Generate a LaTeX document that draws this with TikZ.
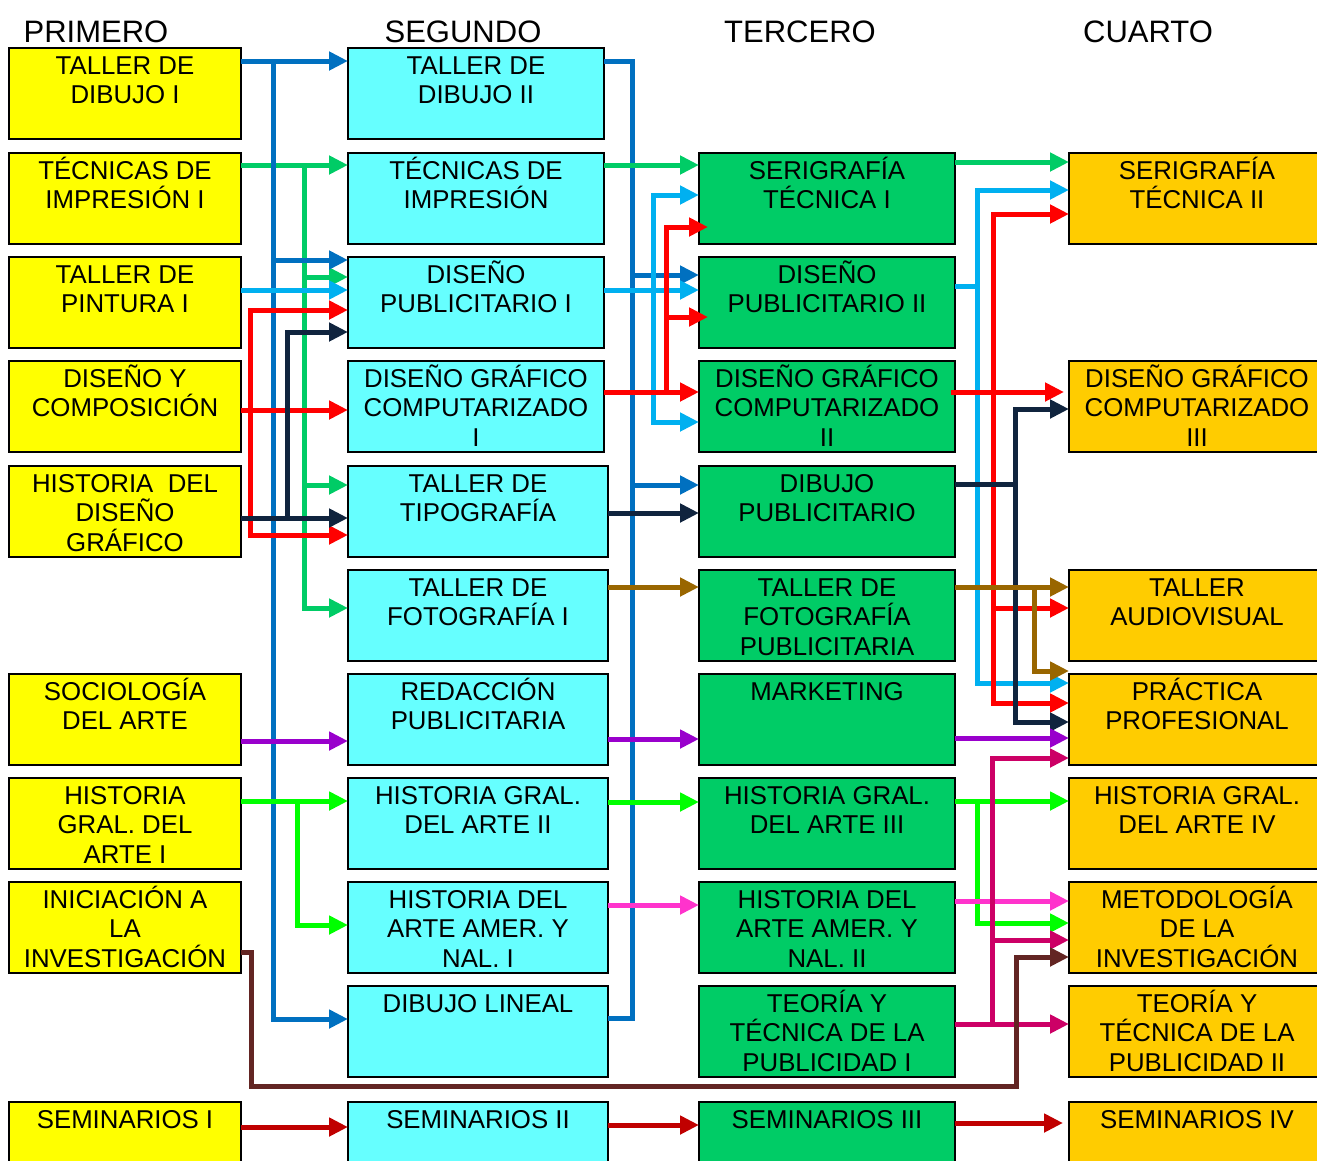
\documentclass[tikz,border=0pt]{standalone}
\usepackage{fontspec}
\setmainfont{Liberation Sans}
\usetikzlibrary{arrows.meta,calc}
\definecolor{cYel}{HTML}{FFFF00}
\definecolor{cCyan}{HTML}{66FFFF}
\definecolor{cEm}{HTML}{00CC66}
\definecolor{cGold}{HTML}{FFCC00}
\definecolor{cBlue}{HTML}{0070C0}
\definecolor{cGreen}{HTML}{00CC66}
\definecolor{cLBlue}{HTML}{00B0F0}
\definecolor{cRed}{HTML}{FF0000}
\definecolor{cNavy}{HTML}{10243E}
\definecolor{cPurple}{HTML}{9900CC}
\definecolor{cLime}{HTML}{00FF00}
\definecolor{cBrown}{HTML}{632523}
\definecolor{cDRed}{HTML}{C00000}
\definecolor{cOchre}{HTML}{996600}
\definecolor{cPink}{HTML}{FF33CC}
\definecolor{cMag}{HTML}{CC0066}
\newcommand\mkbox[6]{%
  \node[boxst,#2,anchor=north west,minimum width=#5pt] (#1) at (#3,#4) {};
  \node[txt,anchor=north] (#1t) at ([yshift=-1pt]#1.north) {\rule{0pt}{25pt}#6};
}
\begin{document}
\begin{tikzpicture}[x=1pt,y=-1pt,
  >={Triangle[length=19pt,width=18pt]},
  ln/.style={line width=5pt,line join=miter},
  boxst/.style={draw=black,line width=2pt,rectangle,minimum height=91pt,inner sep=0pt,outer sep=0pt},
  yb/.style={fill=cYel}, cb/.style={fill=cCyan}, gb/.style={fill=cEm}, ob/.style={fill=cGold},
  txt/.style={font=\fontsize{25.8}{29.5}\selectfont,align=center,inner sep=0pt},
  hdr/.style={font=\fontsize{31}{36}\selectfont,inner sep=0pt}]
\useasboundingbox (0,0) rectangle (1317,1160);
\clip (0,0) rectangle (1317,1160);
% headers
\node[hdr,anchor=base] (h1) at (96,42) {PRIMERO};
\node[hdr,anchor=base] (h2) at (463,42) {SEGUNDO};
\node[hdr,anchor=base] (h3) at (800,42) {TERCERO};
\node[hdr,anchor=base] (h4) at (1148,42) {CUARTO};
% column 1
\mkbox{a1}{yb}{9}{48}{232}{TALLER DE\\DIBUJO I}
\mkbox{a2}{yb}{9}{153}{232}{TÉCNICAS DE\\IMPRESIÓN I}
\mkbox{a3}{yb}{9}{257}{232}{TALLER DE\\PINTURA I}
\mkbox{a4}{yb}{9}{361}{232}{DISEÑO Y\\COMPOSICIÓN}
\mkbox{a5}{yb}{9}{466}{232}{HISTORIA\ \ DEL\\DISEÑO\\GRÁFICO}
\mkbox{a7}{yb}{9}{674}{232}{SOCIOLOGÍA\\DEL ARTE}
\mkbox{a8}{yb}{9}{778}{232}{HISTORIA\\GRAL. DEL\\ARTE I}
\mkbox{a9}{yb}{9}{882}{232}{INICIACIÓN A\\LA\\INVESTIGACIÓN}
\mkbox{a11}{yb}{9}{1102}{232}{SEMINARIOS I}
% column 2
\mkbox{b1}{cb}{348}{48}{256}{TALLER DE\\DIBUJO II}
\mkbox{b2}{cb}{348}{153}{256}{TÉCNICAS DE\\IMPRESIÓN}
\mkbox{b3}{cb}{348}{257}{256}{DISEÑO\\PUBLICITARIO I}
\mkbox{b4}{cb}{348}{361}{256}{DISEÑO GRÁFICO\\COMPUTARIZADO\\I}
\mkbox{b5}{cb}{348}{466}{260}{TALLER DE\\TIPOGRAFÍA}
\mkbox{b6}{cb}{348}{570}{260}{TALLER DE\\FOTOGRAFÍA I}
\mkbox{b7}{cb}{348}{674}{260}{REDACCIÓN\\PUBLICITARIA}
\mkbox{b8}{cb}{348}{778}{260}{HISTORIA GRAL.\\DEL ARTE II}
\mkbox{b9}{cb}{348}{882}{260}{HISTORIA DEL\\ARTE AMER. Y\\NAL. I}
\mkbox{b10}{cb}{348}{986}{260}{DIBUJO LINEAL}
\mkbox{b11}{cb}{348}{1102}{260}{SEMINARIOS II}
% column 3
\mkbox{c2}{gb}{699}{153}{256}{SERIGRAFÍA\\TÉCNICA I}
\mkbox{c3}{gb}{699}{257}{256}{DISEÑO\\PUBLICITARIO II}
\mkbox{c4}{gb}{699}{361}{256}{DISEÑO GRÁFICO\\COMPUTARIZADO\\II}
\mkbox{c5}{gb}{699}{466}{256}{DIBUJO\\PUBLICITARIO}
\mkbox{c6}{gb}{699}{570}{256}{TALLER DE\\FOTOGRAFÍA\\PUBLICITARIA}
\mkbox{c7}{gb}{699}{674}{256}{MARKETING}
\mkbox{c8}{gb}{699}{778}{256}{HISTORIA GRAL.\\DEL ARTE III}
\mkbox{c9}{gb}{699}{882}{256}{HISTORIA DEL\\ARTE AMER. Y\\NAL. II}
\mkbox{c10}{gb}{699}{986}{256}{TEORÍA Y\\TÉCNICA DE LA\\PUBLICIDAD I}
\mkbox{c11}{gb}{699}{1102}{256}{SEMINARIOS III}
% column 4
\mkbox{d2}{ob}{1069}{153}{256}{SERIGRAFÍA\\TÉCNICA II}
\mkbox{d4}{ob}{1069}{361}{256}{DISEÑO GRÁFICO\\COMPUTARIZADO\\III}
\mkbox{d6}{ob}{1069}{570}{256}{TALLER\\AUDIOVISUAL}
\mkbox{d7}{ob}{1069}{674}{256}{PRÁCTICA\\PROFESIONAL}
\mkbox{d8}{ob}{1069}{778}{256}{HISTORIA GRAL.\\DEL ARTE IV}
\mkbox{d9}{ob}{1069}{882}{256}{METODOLOGÍA\\DE LA\\INVESTIGACIÓN}
\mkbox{d10}{ob}{1069}{986}{256}{TEORÍA Y\\TÉCNICA DE LA\\PUBLICIDAD II}
\mkbox{d11}{ob}{1069}{1102}{256}{SEMINARIOS IV}
% ---------- column 1 -> 2
\draw[ln,cGreen,->] (a2.east|-0,165) -- (b2.west|-0,165);
\draw[ln,cGreen,->] (304,165) |- (b6.west|-0,608);
\draw[ln,cGreen,->] (304,277) -- (b3.west|-0,277);
\draw[ln,cGreen,->] (304,485) -- (b5.west|-0,485);
\draw[ln,cBlue,->] (a1.east|-0,61) -- (b1.west|-0,61);
\draw[ln,cBlue,->] (273,61) |- (b10.west|-0,1019);
\draw[ln,cBlue,->] (273,260) -- (b3.west|-0,260);
\draw[ln,cLBlue,->] (a3.east|-0,290) -- (b3.west|-0,290);
\draw[ln,cRed,<->] (b3.west|-0,310) -| (250,535) -- (b5.west|-0,535);
\draw[ln,cRed,->] (a4.east|-0,410) -- (b4.west|-0,410);
\draw[ln,cNavy,->] (a5.east|-0,518) -- (b5.west|-0,518);
\draw[ln,cNavy,->] (287,518) |- (b3.west|-0,332);
\draw[ln,cPurple,->] (a7.east|-0,741) -- (b7.west|-0,741);
\draw[ln,cLime,->] (a8.east|-0,801) -- (b8.west|-0,801);
\draw[ln,cLime,->] (297,801) |- (b9.west|-0,925);
\draw[ln,cDRed,->] (a11.east|-0,1127) -- (b11.west|-0,1127);
% ---------- column 2 -> 3
\draw[ln,cBlue] (b1.east|-0,61) -| (632,1018) -- (b10.east|-0,1018);
\draw[ln,cBlue,->] (632,275) -- (c3.west|-0,275);
\draw[ln,cBlue,->] (632,485) -- (c5.west|-0,485);
\draw[ln,cGreen,->] (b2.east|-0,165) -- (c2.west|-0,165);
\draw[ln,cLBlue,->] (b3.east|-0,290) -- (c3.west|-0,290);
\draw[ln,cLBlue,<->] (c2.west|-0,195) -| (653,422) -- (c4.west|-0,422);
\draw[ln,cRed,->] (b4.east|-0,392) -- (c4.west|-0,392);
\draw[ln,cRed,->] (666,392) |- ($(c2.west|-0,227)+(9,0)$);
\draw[ln,cRed,->] (666,317) -- ($(c3.west|-0,317)+(9,0)$);
\draw[ln,cNavy,->] (b5.east|-0,513) -- (c5.west|-0,513);
\draw[ln,cOchre,->] (b6.east|-0,587) -- (c6.west|-0,587);
\draw[ln,cPurple,->] (b7.east|-0,739) -- (c7.west|-0,739);
\draw[ln,cLime,->] (b8.east|-0,802) -- (c8.west|-0,802);
\draw[ln,cPink,->] (b9.east|-0,905) -- (c9.west|-0,905);
\draw[ln,cDRed,->] (b11.east|-0,1125) -- (c11.west|-0,1125);
% ---------- column 3 -> 4
\draw[ln,cGreen,->] (c2.east|-0,162) -- (d2.west|-0,162);
\draw[ln,cLBlue] (c3.east|-0,286) -- (977,286);
\draw[ln,cLBlue,<->] (d2.west|-0,190) -| (977,683) -- (d7.west|-0,683);
\draw[ln,cRed,->] ([xshift=-4pt]c4.east|-0,392) -- ([xshift=-5pt]d4.west|-0,392);
\draw[ln,cRed,<->] (d2.west|-0,214) -| (993,703) -- (d7.west|-0,703);
\draw[ln,cRed,->] (993,608) -- (d6.west|-0,608);
\draw[ln,cNavy] (c5.east|-0,484) -- (1015,484);
\draw[ln,cNavy,<->] (d4.west|-0,409) -| (1015,722) -- (d7.west|-0,722);
\draw[ln,cOchre,->] (c6.east|-0,587) -- (d6.west|-0,587);
\draw[ln,cOchre,->] (1034,587) |- (d7.west|-0,671);
\draw[ln,cPurple,->] (c7.east|-0,738) -- (d7.west|-0,738);
\draw[ln,cLime,->] (c8.east|-0,801) -- (d8.west|-0,801);
\draw[ln,cLime,->] (977,801) |- (d9.west|-0,923);
\draw[ln,cPink,->] (c9.east|-0,901) -- (d9.west|-0,901);
\draw[ln,cMag,->] (c10.east|-0,1024) -- (d10.west|-0,1024);
\draw[ln,cMag,<-] (d7.west|-0,758) -| (992,1024);
\draw[ln,cMag,->] (992,940) -- (d9.west|-0,940);
\draw[ln,cBrown,->] (a9.east|-0,952) -| (251,1086) -| (1016,957) -- (d9.west|-0,957);
\draw[ln,cDRed,->] (c11.east|-0,1123) -- ([xshift=-6pt]d11.west|-0,1123);
\end{tikzpicture}
\end{document}
